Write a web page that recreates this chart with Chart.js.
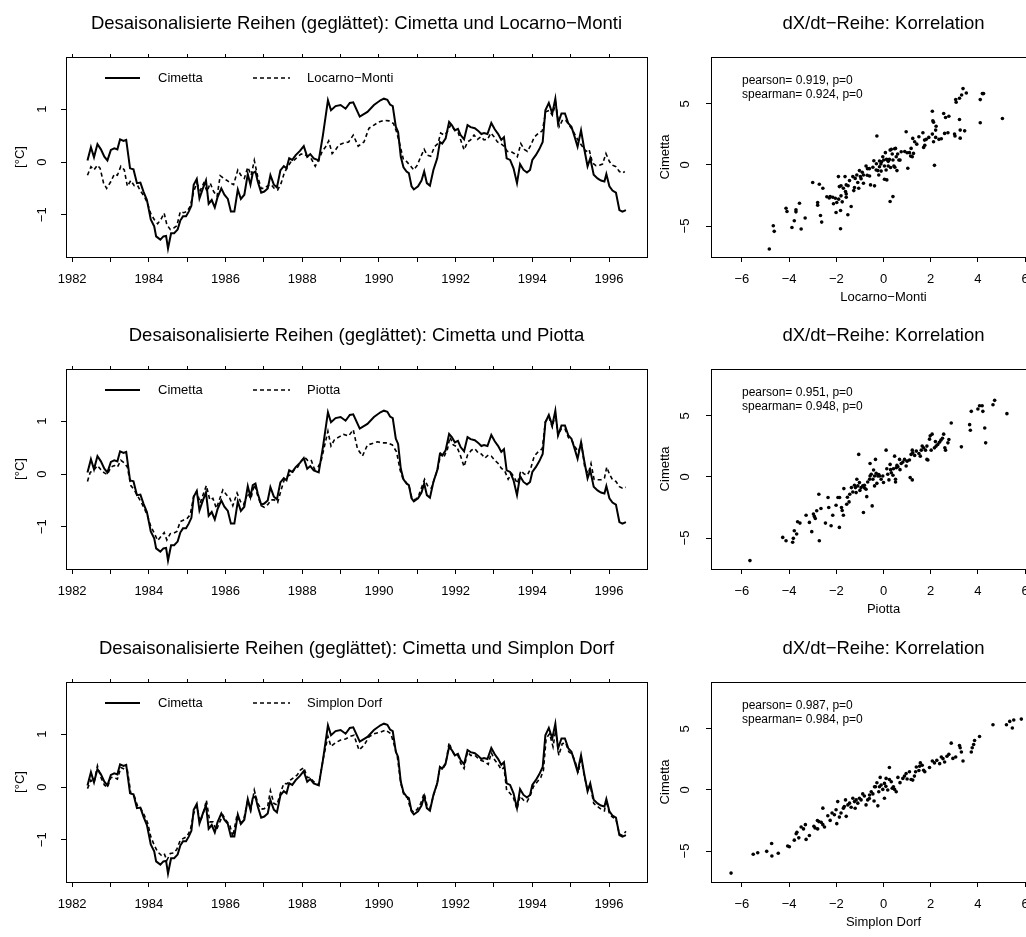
<!DOCTYPE html>
<html lang="de">
<head>
<meta charset="UTF-8">
<title>Cimetta Vergleich</title>
<script src="https://cdn.jsdelivr.net/npm/chart.js@4"></script>
<style>
  html, body { margin: 0; padding: 0; background: #fff; width: 1026px; height: 937px; overflow: hidden; }
  canvas { position: absolute; }
</style>
</head>
<body>
<canvas id="line1" width="650" height="312" style="left:0;top:0"></canvas>
<canvas id="scat1" width="420" height="312" style="left:650px;top:0"></canvas>
<canvas id="line2" width="650" height="312" style="left:0;top:312px"></canvas>
<canvas id="scat2" width="420" height="312" style="left:650px;top:312px"></canvas>
<canvas id="line3" width="650" height="312" style="left:0;top:625px"></canvas>
<canvas id="scat3" width="420" height="312" style="left:650px;top:625px"></canvas>
<script>
// --- data: [decimal year, deseasonalised anomaly in °C]
const cimetta = [
  [1982.40,0.03],[1982.49,0.28],[1982.57,0.09],[1982.66,0.34],[1982.75,0.24],[1982.84,0.10],[1982.92,0.03],
  [1983.01,0.23],[1983.10,0.26],[1983.18,0.24],[1983.25,0.43],[1983.34,0.40],[1983.41,0.42],[1983.51,-0.12],
  [1983.60,-0.14],[1983.69,-0.40],[1983.78,-0.39],[1983.86,-0.56],[1983.95,-0.72],[1984.01,-0.94],[1984.05,-1.09],
  [1984.14,-1.22],[1984.19,-1.41],[1984.30,-1.47],[1984.38,-1.41],[1984.45,-1.40],[1984.50,-1.64],[1984.58,-1.35],
  [1984.66,-1.35],[1984.75,-1.28],[1984.82,-1.11],[1984.89,-1.03],[1984.97,-1.03],[1985.04,-0.94],[1985.11,-0.83],
  [1985.17,-0.43],[1985.25,-0.32],[1985.32,-0.69],[1985.41,-0.50],[1985.49,-0.35],[1985.56,-0.79],[1985.64,-0.72],
  [1985.72,-0.86],[1985.79,-0.67],[1985.89,-0.50],[1985.97,-0.62],[1986.06,-0.70],[1986.14,-0.94],[1986.23,-0.94],
  [1986.32,-0.52],[1986.40,-0.70],[1986.49,-0.62],[1986.58,-0.23],[1986.65,-0.43],[1986.71,-0.21],[1986.78,-0.18],
  [1986.84,-0.37],[1986.93,-0.58],[1987.01,-0.56],[1987.10,-0.50],[1987.17,-0.25],[1987.26,-0.43],[1987.34,-0.48],
  [1987.43,-0.16],[1987.52,-0.08],[1987.59,-0.12],[1987.66,0.07],[1987.74,0.04],[1987.83,0.13],[1987.94,0.21],
  [1988.04,0.30],[1988.13,0.10],[1988.21,0.15],[1988.30,0.07],[1988.43,0.03],[1988.54,0.51],[1988.67,1.17],
  [1988.75,0.98],[1988.87,1.06],[1989.00,1.08],[1989.13,1.01],[1989.24,1.12],[1989.33,1.13],[1989.50,0.86],
  [1989.70,0.95],[1989.87,1.08],[1990.04,1.17],[1990.13,1.20],[1990.22,1.18],[1990.29,1.09],[1990.36,1.06],
  [1990.44,0.67],[1990.50,0.57],[1990.57,0.10],[1990.64,-0.10],[1990.72,-0.18],[1990.78,-0.21],[1990.85,-0.46],
  [1990.91,-0.52],[1991.02,-0.46],[1991.11,-0.35],[1991.18,-0.18],[1991.25,-0.40],[1991.33,-0.45],[1991.42,-0.15],
  [1991.52,0.07],[1991.59,0.38],[1991.65,0.35],[1991.74,0.45],[1991.83,0.76],[1991.90,0.70],[1991.98,0.60],
  [1992.06,0.63],[1992.13,0.51],[1992.22,0.43],[1992.31,0.70],[1992.39,0.66],[1992.50,0.64],[1992.59,0.59],
  [1992.67,0.53],[1992.74,0.55],[1992.83,0.53],[1992.93,0.74],[1993.02,0.62],[1993.11,0.53],[1993.19,0.42],
  [1993.26,0.47],[1993.33,0.07],[1993.42,0.04],[1993.51,-0.12],[1993.60,-0.40],[1993.68,-0.04],[1993.77,-0.15],
  [1993.86,-0.20],[1993.94,-0.15],[1994.00,0.04],[1994.09,0.13],[1994.18,0.24],[1994.27,0.38],[1994.34,0.98],
  [1994.43,1.12],[1994.52,0.92],[1994.60,1.20],[1994.67,0.73],[1994.76,0.92],[1994.85,0.92],[1994.94,0.73],
  [1995.02,0.67],[1995.09,0.51],[1995.18,0.29],[1995.27,0.60],[1995.35,0.26],[1995.44,-0.08],[1995.51,0.07],
  [1995.60,-0.24],[1995.70,-0.31],[1995.79,-0.35],[1995.88,-0.37],[1995.93,-0.23],[1996.01,-0.46],[1996.09,-0.54],
  [1996.18,-0.58],[1996.27,-0.91],[1996.35,-0.94],[1996.44,-0.91]
];

const locarno = [
  [1982.40,-0.25],[1982.49,-0.09],[1982.57,-0.15],[1982.66,-0.06],[1982.73,-0.12],[1982.82,-0.40],[1982.90,-0.50],
  [1983.01,-0.37],[1983.10,-0.23],[1983.18,-0.25],[1983.27,-0.08],[1983.36,-0.15],[1983.44,-0.46],[1983.53,-0.35],
  [1983.62,-0.45],[1983.71,-0.45],[1983.79,-0.56],[1983.88,-0.65],[1983.97,-0.79],[1984.05,-0.98],[1984.14,-1.09],
  [1984.23,-1.17],[1984.32,-1.08],[1984.40,-0.97],[1984.47,-1.19],[1984.56,-1.28],[1984.65,-1.25],[1984.73,-1.21],
  [1984.82,-0.94],[1984.91,-0.96],[1984.99,-0.94],[1985.08,-0.84],[1985.17,-0.56],[1985.25,-0.40],[1985.34,-0.54],
  [1985.43,-0.40],[1985.52,-0.56],[1985.60,-0.40],[1985.69,-0.56],[1985.78,-0.65],[1985.86,-0.26],[1985.95,-0.31],
  [1986.04,-0.35],[1986.13,-0.40],[1986.21,-0.43],[1986.32,-0.15],[1986.40,-0.25],[1986.49,-0.31],[1986.58,-0.10],
  [1986.67,-0.25],[1986.75,0.03],[1986.84,-0.28],[1986.93,-0.50],[1987.01,-0.50],[1987.10,-0.45],[1987.19,-0.43],
  [1987.27,-0.50],[1987.36,-0.53],[1987.45,-0.40],[1987.53,-0.21],[1987.62,-0.09],[1987.71,0.01],[1987.80,0.04],
  [1987.88,0.10],[1987.97,0.15],[1988.06,0.15],[1988.14,0.10],[1988.23,0.07],[1988.34,-0.08],[1988.43,0.04],
  [1988.52,0.20],[1988.61,0.29],[1988.69,0.40],[1988.78,0.16],[1988.87,0.23],[1988.95,0.32],[1989.08,0.36],
  [1989.21,0.38],[1989.33,0.51],[1989.46,0.30],[1989.61,0.38],[1989.74,0.64],[1989.87,0.70],[1990.00,0.76],
  [1990.13,0.79],[1990.26,0.78],[1990.38,0.73],[1990.46,0.57],[1990.55,0.32],[1990.64,0.04],[1990.72,0.01],
  [1990.83,-0.08],[1990.91,-0.15],[1991.00,-0.06],[1991.09,0.10],[1991.18,0.24],[1991.26,0.13],[1991.35,0.11],
  [1991.45,0.29],[1991.54,0.35],[1991.61,0.55],[1991.70,0.51],[1991.78,0.57],[1991.87,0.70],[1991.96,0.62],
  [1992.05,0.59],[1992.13,0.42],[1992.22,0.23],[1992.31,0.38],[1992.39,0.42],[1992.48,0.51],[1992.57,0.43],
  [1992.66,0.48],[1992.74,0.42],[1992.83,0.43],[1992.92,0.55],[1993.00,0.48],[1993.09,0.38],[1993.18,0.35],
  [1993.26,0.30],[1993.35,0.20],[1993.44,0.20],[1993.53,0.16],[1993.61,0.10],[1993.70,0.35],[1993.79,0.24],
  [1993.87,0.20],[1993.96,0.32],[1994.05,0.47],[1994.15,0.54],[1994.26,0.59],[1994.35,0.95],[1994.44,0.98],
  [1994.52,0.89],[1994.61,1.11],[1994.70,0.67],[1994.79,0.80],[1994.87,0.79],[1994.96,0.70],[1995.05,0.60],
  [1995.14,0.48],[1995.22,0.38],[1995.31,0.29],[1995.40,0.20],[1995.48,0.24],[1995.57,-0.02],[1995.66,-0.07],
  [1995.75,-0.06],[1995.83,-0.04],[1995.92,0.16],[1996.01,0.01],[1996.09,-0.06],[1996.18,-0.09],[1996.27,-0.18],
  [1996.35,-0.21],[1996.41,-0.18]
];

const piotta = [
  [1982.40,-0.14],[1982.47,0.03],[1982.57,0.08],[1982.66,0.16],[1982.75,0.08],[1982.84,0.02],[1982.92,-0.01],
  [1983.01,0.13],[1983.10,0.16],[1983.18,0.13],[1983.27,0.26],[1983.36,0.21],[1983.44,0.13],[1983.53,-0.22],
  [1983.62,-0.30],[1983.71,-0.42],[1983.79,-0.52],[1983.88,-0.65],[1983.97,-0.80],[1984.05,-0.99],[1984.14,-1.12],
  [1984.23,-1.26],[1984.32,-1.18],[1984.40,-1.11],[1984.47,-1.25],[1984.56,-1.13],[1984.65,-1.12],[1984.73,-1.09],
  [1984.82,-0.90],[1984.91,-0.87],[1984.99,-0.85],[1985.08,-0.77],[1985.17,-0.42],[1985.25,-0.33],[1985.34,-0.55],
  [1985.43,-0.36],[1985.50,-0.22],[1985.59,-0.49],[1985.67,-0.46],[1985.76,-0.65],[1985.85,-0.47],[1985.93,-0.30],
  [1986.02,-0.39],[1986.11,-0.46],[1986.19,-0.60],[1986.30,-0.36],[1986.39,-0.52],[1986.47,-0.58],[1986.58,-0.36],
  [1986.66,-0.47],[1986.75,-0.20],[1986.84,-0.41],[1986.93,-0.60],[1987.01,-0.63],[1987.10,-0.58],[1987.19,-0.49],
  [1987.27,-0.49],[1987.36,-0.54],[1987.45,-0.30],[1987.53,-0.11],[1987.62,-0.04],[1987.71,-0.01],[1987.80,0.09],
  [1987.88,0.13],[1987.97,0.24],[1988.06,0.32],[1988.14,0.26],[1988.23,0.27],[1988.32,0.09],[1988.41,0.13],
  [1988.49,0.24],[1988.58,0.53],[1988.67,0.81],[1988.75,0.53],[1988.84,0.65],[1988.95,0.70],[1989.08,0.75],
  [1989.21,0.72],[1989.33,0.84],[1989.44,0.48],[1989.57,0.34],[1989.70,0.55],[1989.83,0.58],[1989.96,0.61],
  [1990.09,0.59],[1990.22,0.59],[1990.35,0.55],[1990.46,0.42],[1990.55,0.08],[1990.62,-0.08],[1990.71,-0.16],
  [1990.79,-0.24],[1990.86,-0.46],[1990.95,-0.49],[1991.04,-0.40],[1991.12,-0.24],[1991.19,-0.10],[1991.28,-0.24],
  [1991.37,-0.27],[1991.45,-0.08],[1991.54,0.11],[1991.61,0.39],[1991.70,0.33],[1991.79,0.48],[1991.85,0.70],
  [1991.94,0.55],[1992.03,0.52],[1992.12,0.36],[1992.22,0.14],[1992.31,0.36],[1992.41,0.45],[1992.50,0.48],
  [1992.59,0.40],[1992.67,0.38],[1992.76,0.30],[1992.85,0.36],[1992.93,0.34],[1993.02,0.26],[1993.11,0.20],
  [1993.19,0.11],[1993.28,0.06],[1993.37,-0.10],[1993.46,0.01],[1993.54,-0.08],[1993.61,-0.18],[1993.70,0.06],
  [1993.79,0.00],[1993.87,-0.02],[1993.96,0.11],[1994.05,0.34],[1994.15,0.42],[1994.26,0.48],[1994.34,0.99],
  [1994.43,1.08],[1994.52,0.89],[1994.60,1.14],[1994.67,0.74],[1994.76,0.86],[1994.85,0.86],[1994.94,0.69],
  [1995.02,0.65],[1995.11,0.52],[1995.20,0.42],[1995.28,0.58],[1995.37,0.11],[1995.46,0.01],[1995.53,0.20],
  [1995.61,-0.10],[1995.70,-0.11],[1995.79,-0.11],[1995.88,-0.08],[1995.94,0.13],[1996.01,0.00],[1996.09,-0.11],
  [1996.18,-0.14],[1996.27,-0.24],[1996.35,-0.27],[1996.44,-0.25]
];

const simplon = [
  [1982.40,-0.03],[1982.49,0.13],[1982.57,0.08],[1982.66,0.40],[1982.75,0.18],[1982.84,0.04],[1982.92,-0.01],
  [1983.01,0.18],[1983.10,0.18],[1983.18,0.15],[1983.27,0.37],[1983.36,0.34],[1983.44,0.32],[1983.53,-0.12],
  [1983.62,-0.17],[1983.71,-0.37],[1983.79,-0.41],[1983.88,-0.53],[1983.97,-0.68],[1984.05,-0.94],[1984.14,-1.10],
  [1984.23,-1.23],[1984.32,-1.29],[1984.40,-1.26],[1984.47,-1.39],[1984.56,-1.26],[1984.65,-1.25],[1984.73,-1.18],
  [1984.82,-1.01],[1984.91,-0.97],[1984.99,-0.94],[1985.08,-0.82],[1985.17,-0.50],[1985.25,-0.36],[1985.34,-0.66],
  [1985.43,-0.47],[1985.50,-0.25],[1985.59,-0.66],[1985.67,-0.66],[1985.76,-0.82],[1985.85,-0.66],[1985.93,-0.53],
  [1986.02,-0.64],[1986.11,-0.72],[1986.19,-0.94],[1986.30,-0.53],[1986.39,-0.69],[1986.47,-0.63],[1986.58,-0.25],
  [1986.66,-0.44],[1986.75,-0.06],[1986.84,-0.31],[1986.93,-0.42],[1987.01,-0.41],[1987.10,-0.36],[1987.17,-0.07],
  [1987.26,-0.31],[1987.34,-0.34],[1987.43,-0.12],[1987.52,0.07],[1987.60,0.06],[1987.69,0.13],[1987.78,0.18],
  [1987.87,0.23],[1987.95,0.32],[1988.04,0.37],[1988.13,0.18],[1988.21,0.18],[1988.30,0.10],[1988.43,0.04],
  [1988.54,0.51],[1988.67,0.96],[1988.75,0.77],[1988.87,0.84],[1989.00,0.89],[1989.13,0.91],[1989.26,0.96],
  [1989.35,0.98],[1989.48,0.70],[1989.61,0.79],[1989.74,0.95],[1989.87,1.01],[1990.04,1.04],[1990.17,1.08],
  [1990.31,1.01],[1990.39,0.82],[1990.48,0.57],[1990.57,0.07],[1990.65,-0.15],[1990.74,-0.20],[1990.83,-0.43],
  [1990.91,-0.48],[1991.00,-0.42],[1991.09,-0.31],[1991.18,-0.12],[1991.25,-0.34],[1991.33,-0.40],[1991.42,-0.17],
  [1991.52,0.07],[1991.59,0.38],[1991.65,0.33],[1991.74,0.43],[1991.83,0.84],[1991.90,0.70],[1991.98,0.60],
  [1992.06,0.60],[1992.13,0.45],[1992.22,0.35],[1992.31,0.67],[1992.39,0.60],[1992.50,0.60],[1992.59,0.54],
  [1992.67,0.50],[1992.76,0.48],[1992.85,0.43],[1992.93,0.65],[1993.02,0.51],[1993.11,0.43],[1993.19,0.33],
  [1993.26,0.37],[1993.33,-0.06],[1993.42,-0.12],[1993.51,-0.21],[1993.60,-0.42],[1993.68,-0.17],[1993.77,-0.25],
  [1993.86,-0.28],[1993.94,-0.17],[1994.03,0.01],[1994.13,0.10],[1994.22,0.18],[1994.29,0.32],[1994.36,0.92],
  [1994.45,1.01],[1994.54,0.76],[1994.61,1.08],[1994.69,0.60],[1994.78,0.82],[1994.87,0.84],[1994.95,0.67],
  [1995.04,0.62],[1995.13,0.45],[1995.20,0.27],[1995.27,0.57],[1995.35,0.23],[1995.44,-0.06],[1995.51,0.04],
  [1995.60,-0.31],[1995.70,-0.37],[1995.79,-0.42],[1995.88,-0.45],[1995.93,-0.25],[1996.01,-0.51],[1996.09,-0.57],
  [1996.18,-0.61],[1996.27,-0.89],[1996.35,-0.92],[1996.44,-0.84]
];

// dX/dt scatter: [comparison station, Cimetta]
const dxLocarno = [
  [-4.84,-6.88],[-4.67,-4.98],[-4.63,-5.44],[-4.13,-3.54],[-4.09,-3.81],[-3.78,-4.57],[-3.88,-5.12],[-3.71,-3.67],
  [-3.71,-3.84],[-3.56,-3.13],[-3.49,-5.25],[-3.32,-4.35],[-3.00,-1.44],[-2.72,-1.58],[-2.57,-1.90],[-2.79,-3.07],
  [-2.79,-3.29],[-2.67,-4.14],[-2.62,-4.68],[-2.26,-2.59],[-2.15,-2.64],[-2.04,-2.72],[-1.98,-3.07],[-2.12,-3.18],
  [-1.91,-0.95],[-1.87,-1.77],[-1.80,-1.71],[-2.01,-3.89],[-1.82,-3.73],[-1.82,-5.22],[-1.80,-2.53],[-1.75,-3.02],
  [-1.63,-0.95],[-1.58,-1.63],[-1.61,-2.18],[-1.58,-2.37],[-1.58,-2.64],[-1.51,-4.08],[-1.37,-3.40],[-1.44,-1.28],
  [-1.30,-0.95],[-1.26,-2.10],[-1.23,-1.85],[-1.13,-0.82],[-1.09,-1.44],[-1.05,-1.90],[-1.02,-0.46],[-0.98,-0.95],
  [-0.95,-1.12],[-0.85,-0.82],[-0.85,-1.50],[-0.74,-0.08],[-0.68,-0.30],[-0.69,-0.84],[-0.59,-0.90],[-0.55,-1.63],
  [-0.45,-0.19],[-0.38,-1.71],[-0.41,0.35],[-0.31,-0.41],[-0.24,-0.46],[-0.17,-0.14],[-0.20,-0.82],[-0.28,2.37],
  [-0.17,0.33],[-0.11,0.08],[-0.08,0.27],[-0.03,0.68],[0.01,0.41],[0.04,-0.08],[0.08,1.01],[0.13,0.46],
  [0.11,-0.41],[0.04,-1.17],[0.14,-1.22],[0.20,-0.08],[0.25,0.46],[0.28,1.22],[0.33,1.28],[0.37,0.90],
  [0.28,-2.99],[0.40,-2.59],[0.40,0.41],[0.44,-0.08],[0.47,1.33],[0.51,1.36],[0.54,0.68],[0.48,-0.19],
  [0.57,-0.46],[0.65,0.41],[0.75,1.09],[0.96,2.72],[1.03,-0.27],[1.17,1.36],[1.10,1.01],[1.15,0.73],
  [1.22,0.68],[1.24,2.18],[1.32,1.90],[1.27,0.95],[1.41,1.71],[1.50,2.31],[1.67,2.64],[1.74,2.04],
  [1.81,2.10],[1.92,2.26],[1.70,1.44],[1.75,1.61],[2.07,2.53],[2.12,1.90],[2.21,2.26],[2.16,-0.03],
  [2.07,4.41],[2.09,3.62],[2.12,3.51],[2.23,3.18],[2.21,2.86],[2.35,2.10],[2.45,2.15],[2.55,4.22],
  [2.63,3.89],[2.77,4.00],[2.59,2.59],[2.73,2.64],[3.01,2.53],[3.03,2.37],[3.06,5.36],[3.08,5.14],
  [3.22,5.47],[3.22,3.73],[3.25,2.86],[3.25,2.20],[3.37,6.26],[3.31,5.74],[3.51,5.90],[3.44,2.80],
  [4.10,5.36],[4.19,5.85],[4.24,5.85],[4.10,3.46],[5.04,3.81],
  [-0.60,-0.30],[-0.30,0.10],[0.20,0.30],[0.60,0.90],[0.90,1.10],[-0.90,-0.60],[-1.20,-1.10],[-1.50,-1.70],
  [0.30,-0.20],[0.70,0.40],[1.00,1.00],[-0.10,-0.50],[-2.40,-2.60],[-2.30,-2.70],[-1.90,-2.80],[-1.70,-1.90]
];

const dxPiotta = [
  [-5.66,-6.85],[-4.27,-4.95],[-4.13,-5.22],[-3.85,-5.35],[-3.82,-5.03],[-3.78,-4.40],[-3.68,-4.67],[-3.64,-3.67],
  [-3.54,-3.78],[-3.28,-3.13],[-3.14,-3.72],[-3.04,-4.48],[-2.97,-3.04],[-2.93,-3.23],[-2.89,-3.40],[-2.83,-2.77],
  [-2.74,-1.41],[-2.72,-5.22],[-2.65,-2.58],[-2.46,-3.78],[-2.35,-1.68],[-2.32,-2.50],[-2.22,-3.99],[-2.15,-3.13],
  [-2.01,-2.31],[-1.93,-1.68],[-1.86,-1.68],[-1.87,-4.13],[-1.78,-2.50],[-1.75,-2.75],[-1.70,-3.13],[-1.68,-0.95],
  [-1.56,-2.23],[-1.53,-1.66],[-1.46,-2.04],[-1.43,-1.41],[-1.36,-0.87],[-1.30,-1.23],[-1.23,-0.68],[-1.19,-0.87],
  [-1.16,-1.28],[-1.13,-0.19],[-1.09,-0.73],[-1.02,-0.46],[-0.95,-0.87],[-1.05,1.85],[-0.88,-0.73],[-0.81,-0.68],
  [-0.74,-1.01],[-0.71,-1.61],[-0.67,-0.41],[-0.59,-0.19],[-0.57,0.08],[-0.52,0.22],[-0.85,-2.91],[-0.57,1.11],
  [-0.48,-2.37],[-0.42,0.57],[-0.38,0.08],[-0.31,0.30],[-0.24,0.08],[-0.45,-0.19],[-0.38,-0.73],[-0.28,-0.52],
  [-0.34,1.44],[-0.17,0.08],[-0.10,-0.19],[-0.03,0.08],[0.11,2.20],[0.14,0.68],[0.18,0.22],[0.23,-0.24],
  [0.28,1.03],[0.33,0.35],[0.40,0.14],[0.42,0.68],[0.47,1.71],[0.54,0.76],[0.57,0.95],[0.61,0.84],
  [0.51,-0.19],[0.51,-0.41],[0.68,1.44],[0.75,1.11],[0.82,1.22],[0.89,1.44],[0.96,0.90],[1.10,1.39],
  [1.17,1.85],[1.13,-0.05],[1.22,-0.24],[1.22,2.20],[1.24,1.98],[1.32,1.77],[1.39,2.12],[1.50,1.93],
  [1.56,1.71],[1.60,2.20],[1.64,2.53],[1.70,2.39],[1.78,2.20],[1.84,2.53],[1.84,1.44],[1.88,1.39],
  [1.95,3.10],[1.98,3.37],[2.06,3.51],[2.02,2.20],[2.16,2.39],[2.23,2.53],[2.30,2.66],[2.37,2.85],
  [2.43,3.02],[2.50,3.18],[2.55,3.51],[2.60,2.39],[2.63,2.20],[2.73,2.80],[2.77,3.07],[2.87,4.43],
  [3.30,2.47],[3.65,4.29],[3.68,3.83],[3.72,5.38],[4.00,5.57],[4.07,5.84],[4.18,5.84],[4.21,5.38],
  [4.29,4.02],[4.33,2.80],[4.64,5.92],[4.71,6.28],[5.23,5.19],
  [0.00,-0.45],[-0.20,0.20],[0.30,0.60],[0.70,0.60],[1.00,1.30],[-0.80,-0.90],[-1.00,-1.10],[2.20,2.90]
];

const dxSimplon = [
  [-6.46,-6.81],[-5.52,-5.27],[-5.33,-5.14],[-4.95,-5.03],[-4.74,-4.38],[-4.73,-5.41],[-4.46,-5.19],[-4.06,-4.59],
  [-3.99,-4.65],[-3.78,-4.11],[-3.70,-3.59],[-3.67,-3.46],[-3.59,-3.92],[-3.49,-3.03],[-3.39,-3.19],[-3.31,-2.84],
  [-3.28,-4.05],[-3.14,-3.73],[-2.95,-2.97],[-2.90,-3.11],[-2.79,-3.19],[-2.74,-2.59],[-2.64,-2.65],[-2.57,-2.84],
  [-2.50,-3.03],[-2.57,-1.49],[-2.36,-2.11],[-2.26,-2.49],[-2.18,-1.89],[-2.08,-2.03],[-2.01,-1.62],[-1.98,-2.76],
  [-1.94,-0.95],[-1.87,-2.22],[-1.80,-1.89],[-1.70,-1.49],[-1.66,-1.35],[-1.61,-0.81],[-1.51,-1.22],[-1.44,-1.08],
  [-1.58,-2.16],[-1.37,-1.41],[-1.30,-0.68],[-1.23,-0.95],[-1.16,-0.81],[-1.09,-1.08],[-1.02,-0.68],[-0.95,-0.81],
  [-0.88,-0.32],[-0.81,-0.49],[-0.74,-1.22],[-0.67,-0.81],[-0.59,-0.41],[-0.52,-0.14],[-0.45,-0.32],[-0.38,0.27],
  [-0.34,0.27],[-0.28,0.59],[-0.24,-1.30],[-0.20,-0.14],[-0.17,0.27],[-0.14,1.03],[-0.10,0.41],[-0.03,0.05],
  [0.04,0.54],[0.11,0.95],[0.04,-0.68],[0.18,0.00],[0.25,0.86],[0.33,0.68],[0.37,0.14],[0.42,0.27],
  [0.47,0.05],[0.54,-0.14],[0.25,1.84],[0.61,1.03],[0.82,0.95],[0.89,1.14],[0.96,1.35],[1.10,1.49],
  [1.17,0.86],[1.24,0.81],[1.31,1.14],[1.36,1.49],[1.39,1.89],[1.53,1.95],[1.56,2.22],[1.64,2.03],
  [1.70,1.62],[1.75,1.49],[1.95,1.84],[2.07,2.38],[2.16,2.22],[2.26,2.43],[2.38,2.16],[2.45,2.70],
  [2.52,2.57],[2.59,2.30],[2.69,2.76],[2.77,2.92],[2.87,3.84],[2.94,2.59],[3.06,2.70],[3.22,3.65],
  [3.25,3.46],[3.30,3.11],[3.37,2.38],[3.72,3.11],[3.76,3.46],[3.82,3.73],[3.86,4.05],[4.07,4.38],
  [4.64,5.35],[5.21,5.35],[5.35,5.62],[5.52,5.73],[5.84,5.81],[5.46,5.08],
  [-0.60,-0.70],[-1.20,-1.50],[0.70,0.60],[1.00,0.90],[-2.80,-2.50],[0.10,0.30],[-0.40,-0.90],[1.50,1.60]
];

const yearTicks = [1982,1983,1984,1985,1986,1987,1988,1989,1990,1991,1992,1993,1994,1995,1996];
const anomTicks = [-1, 0, 1];
const dxTicksX = [-6, -4, -2, 0, 2, 4, 6];
const dxTicksY = [-5, 0, 5];

const FONT = "'Liberation Sans', Arial, Helvetica, sans-serif";
Chart.defaults.font.family = FONT;
Chart.defaults.color = '#000';

const minus = v => String(v).replace('-', '\u2212');
const toXY = arr => arr.map(p => ({x: p[0], y: p[1]}));
const setTicks = list => (scale => { scale.ticks = list.map(v => ({value: v})); });

// R style frame round the plot region
const boxPlugin = {
    id: 'rbox',
    afterDatasetsDraw(chart) {
        const {ctx, chartArea: a} = chart;
        ctx.save();
        ctx.strokeStyle = '#000';
        ctx.lineWidth = 1;
        ctx.setLineDash([]);
        ctx.strokeRect(Math.round(a.left) + 0.5, Math.round(a.top) + 0.5,
            Math.round(a.right - a.left), Math.round(a.bottom - a.top));
        ctx.restore();
    }
};

function legendPlugin(other) {
    return {
        id: 'rlegend',
        afterDraw(chart) {
            const ctx = chart.ctx;
            const a = chart.chartArea;
            const y = a.top + 21;
            ctx.save();
            ctx.strokeStyle = '#000';
            ctx.fillStyle = '#000';
            ctx.font = '13px ' + FONT;
            ctx.textBaseline = 'middle';
            ctx.lineWidth = 2;
            ctx.beginPath(); ctx.moveTo(a.left + 39, y); ctx.lineTo(a.left + 74, y); ctx.stroke();
            ctx.fillText('Cimetta', a.left + 92, y);
            ctx.lineWidth = 1.6;
            ctx.setLineDash([4, 3]);
            ctx.beginPath(); ctx.moveTo(a.left + 187, y); ctx.lineTo(a.left + 224, y); ctx.stroke();
            ctx.setLineDash([]);
            ctx.fillText(other, a.left + 241, y);
            ctx.restore();
        }
    };
}

function corrPlugin(lines) {
    return {
        id: 'corrtext',
        afterDraw(chart) {
            const ctx = chart.ctx;
            const a = chart.chartArea;
            ctx.save();
            ctx.fillStyle = '#000';
            ctx.font = '12px ' + FONT;
            ctx.textBaseline = 'middle';
            ctx.fillText(lines[0], a.left + 31, a.top + 24);
            ctx.fillText(lines[1], a.left + 31, a.top + 38);
            ctx.restore();
        }
    };
}

function tickGrid(len) {
    return {drawOnChartArea: false, drawTicks: true, tickLength: len, tickColor: '#000', tickWidth: 1};
}

function lineChart(id, title, other, otherName) {
    new Chart(document.getElementById(id), {
        type: 'line',
        data: {
            datasets: [
                {label: 'Cimetta', data: toXY(cimetta), borderColor: '#000', borderWidth: 2,
                    pointRadius: 0, tension: 0, xAxisID: 'x', yAxisID: 'y'},
                {label: otherName, data: toXY(other), borderColor: '#000', borderWidth: 1.6,
                    borderDash: [4, 3], pointRadius: 0, tension: 0, xAxisID: 'x', yAxisID: 'y'}
            ]
        },
        options: {
            responsive: false,
            animation: false,
            events: [],
            layout: {padding: {left: 0, right: 3, top: 0, bottom: 0}},
            plugins: {
                legend: {display: false},
                tooltip: {enabled: false},
                title: {
                    display: true, fullSize: false, text: title, color: '#000',
                    font: {size: 18.5, weight: 'normal', family: FONT},
                    padding: {top: 12.9, bottom: 18.9}
                }
            },
            scales: {
                x: {
                    type: 'linear', position: 'bottom', min: 1981.84, max: 1996.99,
                    afterBuildTicks: setTicks(yearTicks),
                    afterFit: s => { s.height = 55; },
                    grid: tickGrid(5), border: {display: false},
                    ticks: {font: {size: 13}, padding: 10, maxRotation: 0, autoSkip: false,
                        callback: v => (v % 2 === 0 ? String(v) : '')}
                },
                xTop: {
                    type: 'linear', position: 'top', min: 1981.84, max: 1996.99,
                    afterBuildTicks: setTicks(yearTicks),
                    afterFit: s => { s.height = 3; },
                    grid: tickGrid(3), border: {display: false},
                    ticks: {display: false}
                },
                y: {
                    type: 'linear', position: 'left', min: -1.8, max: 1.99,
                    afterBuildTicks: setTicks(anomTicks),
                    afterFit: s => { s.width = 66; },
                    grid: tickGrid(5), border: {display: false},
                    ticks: {font: {size: 13}, padding: 11.6, minRotation: 90, maxRotation: 90,
                        crossAlign: 'center', callback: minus},
                    title: {display: true, text: '[°C]', font: {size: 13}, padding: {top: 12.2, bottom: 0}}
                }
            }
        },
        plugins: [boxPlugin, legendPlugin(otherName)]
    });
}

function scatterChart(id, points, xName, lines) {
    new Chart(document.getElementById(id), {
        type: 'scatter',
        data: {
            datasets: [{
                label: xName, data: toXY(points), backgroundColor: '#000', borderWidth: 0,
                pointStyle: 'circle', pointRadius: 1.8
            }]
        },
        options: {
            responsive: false,
            animation: false,
            events: [],
            layout: {padding: {left: 0, right: 14, top: 0, bottom: 0}},
            plugins: {
                legend: {display: false},
                tooltip: {enabled: false},
                title: {
                    display: true, fullSize: false, text: 'dX/dt\u2212Reihe: Korrelation', color: '#000',
                    font: {size: 18.5, weight: 'normal', family: FONT},
                    padding: {top: 12.9, bottom: 21.9}
                }
            },
            scales: {
                x: {
                    type: 'linear', position: 'bottom', min: -7.31, max: 7.31,
                    afterBuildTicks: setTicks(dxTicksX),
                    afterFit: s => { s.height = 55; },
                    grid: tickGrid(5), border: {display: false},
                    ticks: {font: {size: 13}, padding: 10, maxRotation: 0, autoSkip: false, callback: minus},
                    title: {display: true, text: xName, font: {size: 13}, padding: {top: 0, bottom: 7.2}}
                },
                y: {
                    type: 'linear', position: 'left', min: -7.54, max: 8.85,
                    afterBuildTicks: setTicks(dxTicksY),
                    afterFit: s => { s.width = 61; },
                    grid: tickGrid(5), border: {display: false},
                    ticks: {font: {size: 13}, padding: 13.6, minRotation: 90, maxRotation: 90,
                        crossAlign: 'center', callback: minus},
                    title: {display: true, text: 'Cimetta', font: {size: 13}, padding: {top: 7.2, bottom: 0}}
                }
            }
        },
        plugins: [boxPlugin, corrPlugin(lines)]
    });
}

lineChart('line1', 'Desaisonalisierte Reihen (geglättet): Cimetta und Locarno\u2212Monti', locarno, 'Locarno\u2212Monti');
lineChart('line2', 'Desaisonalisierte Reihen (geglättet): Cimetta und Piotta', piotta, 'Piotta');
lineChart('line3', 'Desaisonalisierte Reihen (geglättet): Cimetta und Simplon Dorf', simplon, 'Simplon Dorf');

scatterChart('scat1', dxLocarno, 'Locarno\u2212Monti', ['pearson= 0.919, p=0', 'spearman= 0.924, p=0']);
scatterChart('scat2', dxPiotta, 'Piotta', ['pearson= 0.951, p=0', 'spearman= 0.948, p=0']);
scatterChart('scat3', dxSimplon, 'Simplon Dorf', ['pearson= 0.987, p=0', 'spearman= 0.984, p=0']);
</script>
</body>
</html>
